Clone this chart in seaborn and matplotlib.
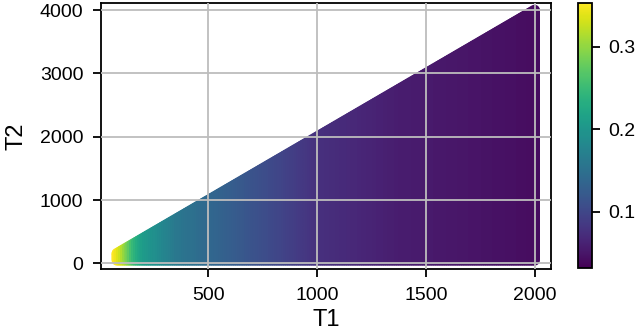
import numpy as np
import pandas as pd
import seaborn as sns
import matplotlib
matplotlib.use("Agg")
import matplotlib.pyplot as plt
from matplotlib.colors import Normalize
from matplotlib.cm import ScalarMappable

# --- values ---
t1_bounds = [80, 2000]          # T1 extent of the filled region
t2_min = 50                     # lowest T2 row
t2_slope = 2.0                  # upper edge: T2 <= slope * T1
t1_step, t2_step = 10, 20

# colour value read at a few T1 positions (mostly depends on T1)
t1_anchor = [80, 108, 131, 166, 212, 373, 525, 1025, 1400, 2000]
val_anchor = [0.353, 0.330, 0.300, 0.250, 0.210, 0.160, 0.138, 0.076, 0.057, 0.043]
cbar_range = [0.032, 0.353]

cbar_ticks = [0.1, 0.2, 0.3]
x_ticks = [500, 1000, 1500, 2000]
y_ticks = [0, 1000, 2000, 3000, 4000]

## -----------------------
# build the point cloud, one column per T1 value
## -----------------------
t1 = np.arange(t1_bounds[0], t1_bounds[1] + 1, t1_step)
rows = []
for a in t1:
    col = list(np.arange(t2_min, t2_slope * a, t2_step)) + [t2_slope * a]
    for b in col:
        rows.append((a, b))
df = pd.DataFrame(rows, columns=["T1", "T2"])
df["val"] = np.interp(df["T1"], t1_anchor, val_anchor)

vmin, vmax = cbar_range

sns.set_theme(style="ticks")
plt.rcParams["font.family"] = ["Liberation Sans", "DejaVu Sans"]
plt.rcParams["text.color"] = "black"
plt.rcParams["axes.labelcolor"] = "black"
plt.rcParams["xtick.color"] = "black"
plt.rcParams["ytick.color"] = "black"

fig = plt.figure(figsize=(6.4, 3.36), dpi=100)
ax = fig.add_axes([0.158, 0.199, 0.703, 0.792])
cax = fig.add_axes([0.903, 0.202, 0.022, 0.789])

sns.scatterplot(data=df, x="T1", y="T2", hue="val", palette="viridis",
                hue_norm=(vmin, vmax), s=60, linewidth=0, legend=False, ax=ax)

ax.set_xlim(7, 2076)
ax.set_ylim(-90, 4112)
ax.set_xticks(x_ticks)
ax.set_yticks(y_ticks)
ax.set_axisbelow(False)
ax.grid(True, color="#bdbdbd", linewidth=1.3)
ax.tick_params(labelsize=14, length=5.8, width=1.3, pad=7, colors="black")
for s in ax.spines.values():
    s.set_color("black")
    s.set_linewidth(1.3)
ax.set_xlabel("T1", fontsize=17, labelpad=4)
ax.set_ylabel("T2", fontsize=17, labelpad=9)

sm = ScalarMappable(norm=Normalize(vmin, vmax), cmap="viridis")
cb = fig.colorbar(sm, cax=cax, ticks=cbar_ticks)
cb.outline.set_edgecolor("black")
cb.outline.set_linewidth(1.3)
cax.tick_params(labelsize=14, length=5.8, width=1.3, pad=6, colors="black")

fig.savefig("out.png", dpi=100)
